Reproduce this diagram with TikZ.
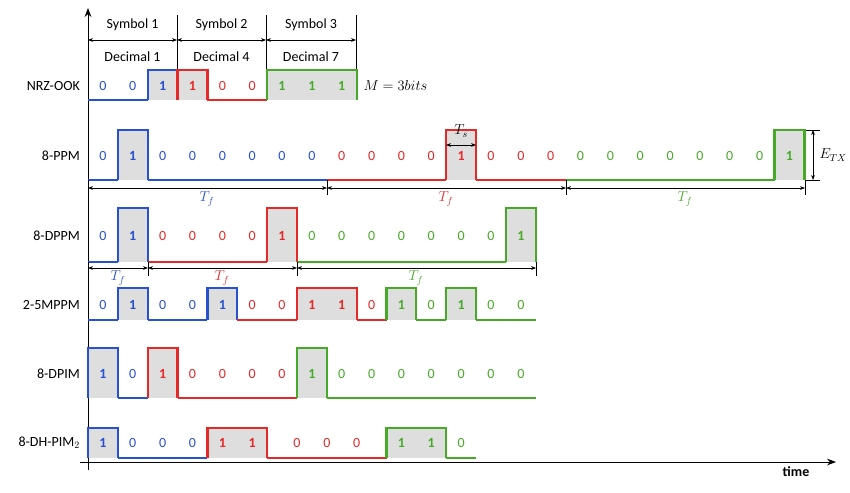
\documentclass[tikz,border=0pt]{standalone}
\usepackage{fontspec}
\setmainfont{Carlito}
\usetikzlibrary{arrows.meta}
\definecolor{cb}{RGB}{40,80,210}
\definecolor{cr}{RGB}{230,40,40}
\definecolor{cg}{RGB}{70,170,40}
\definecolor{pgray}{RGB}{222,222,222}
\def\sw{29.85}
\newcommand\lowseg[3]{\draw[#3,wave] ({88+#1*\sw},\lo) -- ({88+#2*\sw},\lo);}
\newcommand\hiseg[3]{\fill[pgray] ({88+#1*\sw},\lo) rectangle ({88+#2*\sw},\hi);
 \draw[#3,wave] ({88+#1*\sw},\lo) -- ({88+#1*\sw},\hi) -- ({88+#2*\sw},\hi) -- ({88+#2*\sw},\lo);}
\newcommand\dg[3]{\node[text=#3,dig] at ({88+(#1+0.5)*\sw},\ly) {#2};}
\newcommand\dgb[2]{\node[text=#2,dig,font=\fontsize{14}{14}\selectfont\bfseries] at ({88+(#1+0.5)*\sw},\ly) {1};}
\newcommand\dgz[2]{\foreach \k in {#1}{\dg{\k}{0}{#2}}}
\begin{document}
\begin{tikzpicture}[x=1pt,y=-1pt,
 every node/.style={font=\fontsize{14}{14}\selectfont},
 wave/.style={line width=2.2pt},
 dig/.style={inner sep=0},
 lab/.style={anchor=east,inner sep=0},
 dim/.style={{Stealth[length=5pt]}-{Stealth[length=5pt]},line width=0.6pt},
 tick/.style={line width=0.6pt}]
\useasboundingbox (0,0) rectangle (850,492);
% axes
\draw[line width=1pt,-{Stealth[length=9pt]}] (88,470) -- (88,8);
\draw[line width=1pt,-{Stealth[length=9pt]}] (80,462) -- (836,462);
\node[font=\fontsize{14}{14}\selectfont\bfseries] (time) at (796,472) {time};
% header
\foreach \x in {88,177,266,356} \draw[tick] (\x,15) -- (\x,70);
\foreach \a/\b/\n/\d in {88/177/1/1,177/266/2/4,266/356/3/7}{
 \draw[dim] (\a,40) -- (\b,40);
 \node at ({(\a+\b)/2},25) {Symbol \n};
 \node at ({(\a+\b)/2},57) {Decimal \d};}
% NRZ
\def\lo{100}\def\hi{70}\def\ly{86}
\node[lab] (l1) at (80,86) {NRZ-OOK};
\lowseg{0}{2}{cb}\hiseg{2}{3}{cb}\hiseg{3}{4}{cr}\lowseg{4}{6}{cr}\hiseg{6}{9}{cg}
\dgz{0,1}{cb}\dgb{2}{cb}\dgb{3}{cr}\dgz{4,5}{cr}\dgb{6}{cg}\dgb{7}{cg}\dgb{8}{cg}
\node[anchor=west] (m) at (360,86) {$M=3bits$};
% PPM
\def\lo{180}\def\hi{130}\def\ly{156}
\node[lab] (l2) at (80,156) {8-PPM};
\lowseg{0}{1}{cb}\hiseg{1}{2}{cb}\lowseg{2}{8}{cb}
\lowseg{8}{12}{cr}\hiseg{12}{13}{cr}\lowseg{13}{16}{cr}
\lowseg{16}{23}{cg}\hiseg{23}{24}{cg}
\dgz{0,2,3,4,5,6,7}{cb}\dgb{1}{cb}
\dgz{8,9,10,11,13,14,15}{cr}\dgb{12}{cr}
\dgz{16,17,18,19,20,21,22}{cg}\dgb{23}{cg}
\draw[dim] (446,145) -- (476,145);
\node at (461,131) {$T_s$};
\draw[tick] (806,130) -- (820,130); \draw[tick] (806,180) -- (820,180);
\draw[dim] (813,130) -- (813,180);
\node[anchor=west] at (816,155) {$E_{TX}$};
\foreach \x in {88,327,566,805} \draw[tick] (\x,180) -- (\x,195);
\draw[dim] (88,188) -- (327,188); \draw[dim] (327,188) -- (566,188); \draw[dim] (566,188) -- (805,188);
\node[text=cb] at (207,199) {$T_f$};\node[text=cr] at (446,199) {$T_f$};\node[text=cg] at (685,199) {$T_f$};
% DPPM
\def\lo{262}\def\hi{208}\def\ly{236}
\node[lab] (l3) at (80,236) {8-DPPM};
\lowseg{0}{1}{cb}\hiseg{1}{2}{cb}\lowseg{2}{6}{cr}\hiseg{6}{7}{cr}\lowseg{7}{14}{cg}\hiseg{14}{15}{cg}
\dg{0}{0}{cb}\dgb{1}{cb}\dgz{2,3,4,5}{cr}\dgb{6}{cr}\dgz{7,8,9,10,11,12,13}{cg}\dgb{14}{cg}
\foreach \x in {88,148,297,536} \draw[tick] (\x,262) -- (\x,276);
\draw[dim] (88,268) -- (148,268); \draw[dim] (148,268) -- (297,268); \draw[dim] (297,268) -- (536,268);
\node[text=cb] at (118,278) {$T_f$};\node[text=cr] at (222,278) {$T_f$};\node[text=cg] at (416,278) {$T_f$};
% MPPM
\def\lo{320}\def\hi{288}\def\ly{305}
\node[lab] (l4) at (80,305) {2-5MPPM};
\lowseg{0}{1}{cb}\hiseg{1}{2}{cb}\lowseg{2}{4}{cb}\hiseg{4}{5}{cb}
\lowseg{5}{7}{cr}\hiseg{7}{9}{cr}\lowseg{9}{10}{cr}
\hiseg{10}{11}{cg}\lowseg{11}{12}{cg}\hiseg{12}{13}{cg}\lowseg{13}{15}{cg}
\dgz{0,2,3}{cb}\dgb{1}{cb}\dgb{4}{cb}\dgz{5,6,9}{cr}\dgb{7}{cr}\dgb{8}{cr}
\dgb{10}{cg}\dgb{12}{cg}\dgz{11,13,14}{cg}
% DPIM
\def\lo{398}\def\hi{348}\def\ly{374}
\node[lab] (l5) at (80,374) {8-DPIM};
\hiseg{0}{1}{cb}\lowseg{1}{2}{cb}\hiseg{2}{3}{cr}\lowseg{3}{7}{cr}\hiseg{7}{8}{cg}\lowseg{8}{15}{cg}
\dgb{0}{cb}\dg{1}{0}{cb}\dgb{2}{cr}\dgz{3,4,5,6}{cr}\dgb{7}{cg}\dgz{8,9,10,11,12,13,14}{cg}
% DH-PIM
\def\lo{458}\def\hi{428}\def\ly{443}
\node[lab] (l6) at (80,443) {8-DH-PIM$_2$};
\hiseg{0}{1}{cb}\lowseg{1}{4}{cb}\hiseg{4}{6}{cr}\lowseg{6}{10}{cr}\hiseg{10}{12}{cg}\lowseg{12}{13}{cg}
\dgb{0}{cb}\dgz{1,2,3}{cb}\dgb{4}{cr}\dgb{5}{cr}\dgz{6.5,7.5,8.5}{cr}\dgb{10}{cg}\dgb{11}{cg}\dg{12}{0}{cg}
\end{tikzpicture}
\end{document}
